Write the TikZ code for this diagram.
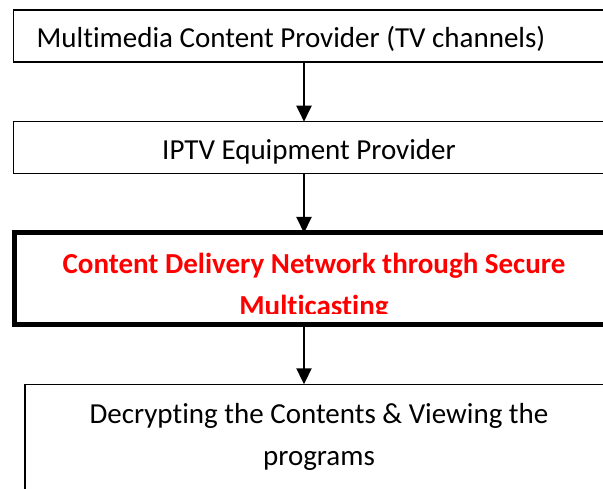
\documentclass[tikz,border=0pt]{standalone}
\usepackage{fontspec}
\setmainfont{Carlito}[Ligatures=NoCommon]
\usetikzlibrary{arrows.meta}

\begin{document}
\begin{tikzpicture}[
  x=1pt, y=-1pt,
  >={Triangle[length=16pt,width=15pt]},
  every node/.style={inner sep=0pt, outer sep=0pt},
  box/.style={draw, line width=1.5pt, minimum width=700pt, anchor=north west},
  tbox/.style={box, line width=5pt},
  txt/.style={font=\fontsize{29}{42}\selectfont, anchor=base},
  htxt/.style={font=\fontsize{29}{42}\selectfont\bfseries, text=red, anchor=base},
  arr/.style={->, line width=2pt}
]
\useasboundingbox (0,0) rectangle (603,489);
\clip (0,0) rectangle (603,489);

% --- boxes (running off the right edge) ---
\node[box,  minimum height=52pt]  (prov)  at (13.5,10)    {};
\node[box,  minimum height=51.6pt] (equip) at (13.5,121.7) {};
\node[tbox, minimum height=92pt]  (cdn)   at (14.5,233)   {};
\node[box,  minimum height=200pt] (view)  at (25,384.3)   {};

% --- texts ---
\node[txt, anchor=base west] (tprov) at (36.7,48) {Multimedia Content Provider (TV channels)};
\node[txt] (tequip) at (309,160) {IPTV Equipment Provider};
\node[htxt] (tcdna) at (314,273.3) {Content Delivery Network through Secure};
\begin{scope}
  \clip (cdn.north west) rectangle (603,313.5);
  \node[htxt] (tcdnb) at (314,315.5) {Multicasting};
\end{scope}
\node[txt] (tviewa) at (319,423) {Decrypting the Contents \& Viewing the};
\node[txt] (tviewb) at (319,465) {programs};

% --- arrows down the middle ---
\coordinate (axis) at (304,0);
\draw[arr] (prov.south -| axis)  -- (equip.north -| axis);
\draw[arr] (equip.south -| axis) -- (cdn.north -| axis);
\draw[arr] (cdn.south -| axis)   -- (view.north -| axis);

\end{tikzpicture}
\end{document}
